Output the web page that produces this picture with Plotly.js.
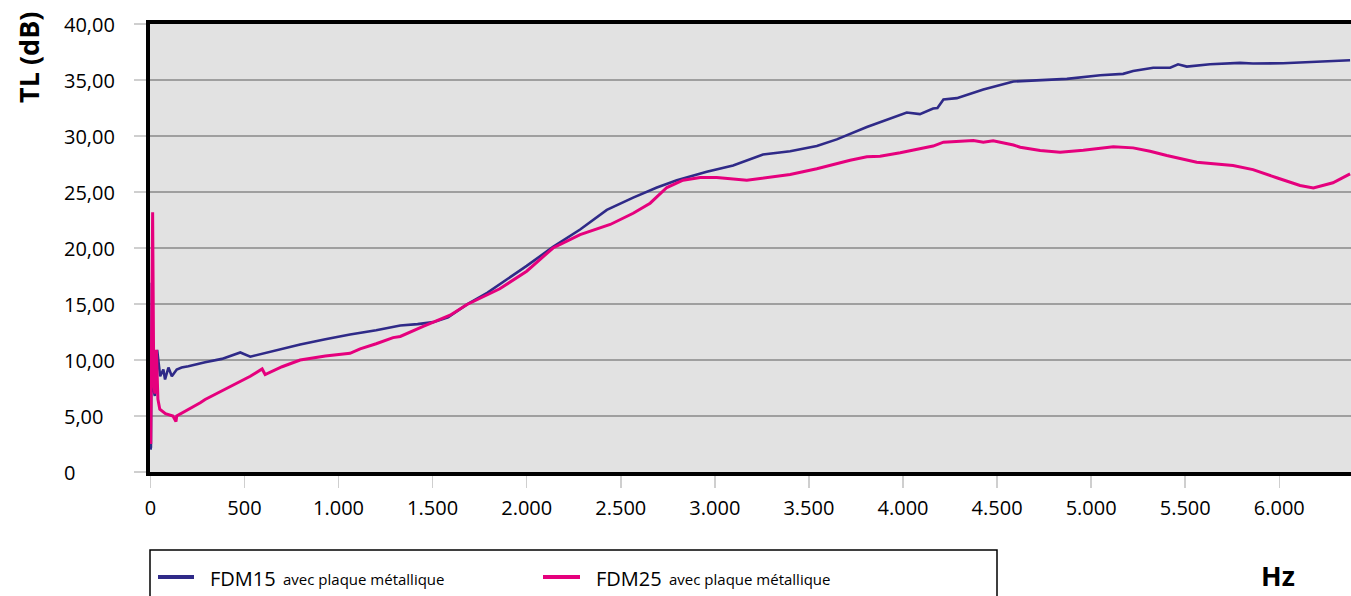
<!DOCTYPE html>
<html>
<head>
<meta charset="utf-8">
<script src="https://cdn.plot.ly/plotly-3.0.1.min.js"></script>
<style>
html,body{margin:0;padding:0;background:#fff;}
#chart{width:1351px;height:596px;}
</style>
</head>
<body>
<div id="chart"></div>
<script>
// ---- Data ----
const seriesNames = ["FDM15", "FDM25"];
const seriesSuffix = "avec plaque métallique";

const fdm15Hz = [0, 3, 8, 14, 24, 32, 36, 43, 52, 69, 78, 96, 114, 140, 166, 202, 256, 291, 380, 478, 531, 650, 796, 930, 1061, 1200, 1328, 1420, 1503, 1582, 1683, 1790, 1896, 2000, 2140, 2284, 2426, 2566, 2692, 2798, 2957, 3097, 3256, 3400, 3542, 3648, 3808, 4020, 4090, 4160, 4183, 4215, 4286, 4427, 4587, 4692, 4871, 5048, 5170, 5223, 5330, 5420, 5462, 5508, 5632, 5791, 5860, 6020, 6200, 6376];
const fdm15dB = [2.0, 2.2, 16.9, 7.5, 6.8, 8.5, 10.9, 9.8, 8.55, 9.15, 8.26, 9.33, 8.55, 9.15, 9.33, 9.45, 9.69, 9.8, 10.1, 10.67, 10.3, 10.8, 11.38, 11.85, 12.28, 12.65, 13.08, 13.2, 13.38, 13.8, 14.96, 16.0, 17.19, 18.4, 20.1, 21.65, 23.4, 24.5, 25.4, 26.05, 26.8, 27.37, 28.35, 28.64, 29.1, 29.7, 30.8, 32.1, 31.95, 32.45, 32.5, 33.26, 33.38, 34.15, 34.87, 34.93, 35.1, 35.43, 35.55, 35.8, 36.1, 36.1, 36.4, 36.2, 36.4, 36.53, 36.47, 36.5, 36.65, 36.77];

const fdm25Hz = [2, 7, 12, 18, 24, 32, 40, 50, 80, 120, 130, 136, 140, 184, 265, 291, 400, 531, 594, 610, 700, 796, 930, 1061, 1115, 1200, 1290, 1328, 1450, 1593, 1683, 1857, 2000, 2140, 2284, 2444, 2566, 2656, 2745, 2831, 2922, 3010, 3170, 3276, 3400, 3542, 3719, 3808, 3878, 3985, 4160, 4215, 4374, 4427, 4479, 4587, 4623, 4729, 4835, 4958, 5118, 5223, 5313, 5402, 5561, 5754, 5860, 5986, 6110, 6181, 6285, 6376];
const fdm25dB = [2.5, 14.0, 23.2, 8.0, 7.0, 10.9, 6.5, 5.6, 5.2, 5.0, 4.6, 4.5, 5.0, 5.4, 6.18, 6.47, 7.4, 8.55, 9.2, 8.7, 9.4, 10.0, 10.35, 10.6, 11.0, 11.45, 12.0, 12.1, 13.0, 14.0, 14.96, 16.36, 17.93, 20.0, 21.2, 22.1, 23.1, 24.0, 25.4, 26.05, 26.3, 26.3, 26.05, 26.3, 26.56, 27.07, 27.84, 28.14, 28.2, 28.5, 29.1, 29.45, 29.6, 29.45, 29.57, 29.2, 29.0, 28.7, 28.55, 28.73, 29.03, 28.94, 28.64, 28.26, 27.66, 27.37, 27.0, 26.27, 25.58, 25.37, 25.82, 26.62];

const yTickVals = [0, 5, 10, 15, 20, 25, 30, 35, 40];
const yTickText = ["0", "5,00", "10,00", "15,00", "20,00", "25,00", "30,00", "35,00", "40,00"];
const xTickVals = [0, 500, 1000, 1500, 2000, 2500, 3000, 3500, 4000, 4500, 5000, 5500, 6000];
const xTickText = ["0", "500", "1.000", "1.500", "2.000", "2.500", "3.000", "3.500", "4.000", "4.500", "5.000", "5.500", "6.000"];
const yTitle = "TL (dB)";
const xTitle = "Hz";

// ---- Styles ----
const colors = ["#2f2a88", "#e5007d"];
const W = 1351, H = 596;
const M = {l: 150, r: 0, t: 24, b: 124};
const pw = W - M.l - M.r, ph = H - M.t - M.b;
const px2x = p => (p - M.l) / pw;
const py2y = p => (H - M.b - p) / ph;
const FONT = "Open Sans, Noto Sans, sans-serif";

const traces = [
  {x: fdm15Hz, y: fdm15dB, name: seriesNames[0], type: "scatter", mode: "lines",
   line: {color: colors[0], width: 2.6}},
  {x: fdm25Hz, y: fdm25dB, name: seriesNames[1], type: "scatter", mode: "lines",
   line: {color: colors[1], width: 3}}
];

const legendY = py2y(577);
const legendItems = [
  {x0: 158, x1: 194, tx: 208, tx2: 281},
  {x0: 543, x1: 580, tx: 594, tx2: 667}
];

const shapes = [
  {type: "rect", xref: "paper", yref: "paper", x0: 0, x1: px2x(997), y0: py2y(550), y1: py2y(610),
   line: {color: "#000", width: 1.5}, fillcolor: "rgba(0,0,0,0)"}
];
const annotations = [
  {xref: "paper", yref: "paper", x: px2x(29), y: py2y(58), text: "<b>" + yTitle + "</b>", textangle: -90,
   showarrow: false, font: {family: FONT, size: 27, color: "#000"}, xanchor: "center", yanchor: "middle"},
  {xref: "paper", yref: "paper", x: px2x(1278), y: py2y(575), text: "<b>" + xTitle + "</b>",
   showarrow: false, font: {family: FONT, size: 27, color: "#000"}, xanchor: "center", yanchor: "middle"}
];
// y tick labels: left-aligned as in the reference
yTickVals.forEach((v, i) => {
  annotations.push({xref: "paper", yref: "y", x: px2x(62), y: v, text: yTickText[i], xanchor: "left", yanchor: "middle",
    showarrow: false, font: {family: FONT, size: 20, color: "#000"}});
});
legendItems.forEach((it, i) => {
  shapes.push({type: "line", xref: "paper", yref: "paper", x0: px2x(it.x0), x1: px2x(it.x1), y0: legendY, y1: legendY,
    line: {color: colors[i], width: 4}});
  annotations.push({xref: "paper", yref: "paper", x: px2x(it.tx), y: py2y(578), xanchor: "left", yanchor: "middle",
    showarrow: false, font: {family: FONT, size: 20, color: "#000"}, text: traces[i].name});
  annotations.push({xref: "paper", yref: "paper", x: px2x(it.tx2), y: py2y(579), xanchor: "left", yanchor: "middle",
    showarrow: false, font: {family: FONT, size: 15, color: "#000"},
    text: seriesSuffix});
});

const layout = {
  width: W, height: H,
  margin: M,
  paper_bgcolor: "#ffffff",
  plot_bgcolor: "#e2e2e2",
  showlegend: false,
  font: {family: FONT, size: 20, color: "#000"},
  xaxis: {
    range: [-2, 6381], tickvals: xTickVals, ticktext: xTickText,
    showgrid: false, zeroline: false,
    showline: true, linecolor: "#000", linewidth: 4, mirror: true,
    ticks: "outside", ticklen: 12, tickwidth: 1.5, tickcolor: "#cfcfcf",
    ticklabelstandoff: 3,
    tickfont: {family: FONT, size: 20, color: "#000"}
  },
  yaxis: {
    range: [0, 40], tickvals: yTickVals, ticktext: yTickText,
    showgrid: true, gridcolor: "#9f9f9f", gridwidth: 2.5, zeroline: false,
    showline: true, linecolor: "#000", linewidth: 4, mirror: false,
    ticks: "outside", ticklen: 12, tickwidth: 1.5, tickcolor: "#cfcfcf",
    showticklabels: false
  },
  shapes: shapes,
  annotations: annotations
};

Plotly.newPlot("chart", traces, layout, {displayModeBar: false, staticPlot: true});
</script>
</body>
</html>
